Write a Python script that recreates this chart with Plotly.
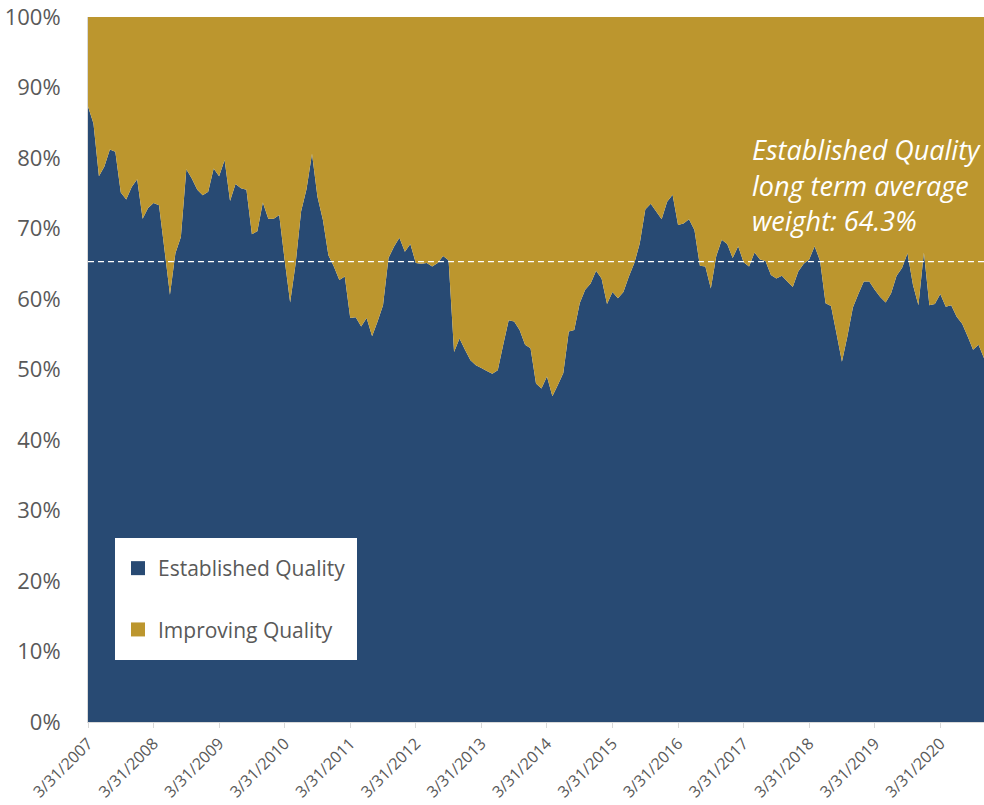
import calendar
import plotly.graph_objects as go

# ---------------- data ----------------
START_YEAR, START_MONTH = 2007, 3

established = [
    87.3, 84.9, 77.4, 78.8, 81.2, 80.9, 75.1, 74.1, 75.9, 77.0,   # 0-9
    71.4, 72.9, 73.6, 73.3, 67.0, 60.6, 66.5, 68.8, 78.4, 77.1,   # 10-19
    75.5, 74.7, 75.2, 78.5, 77.4, 79.7, 73.9, 76.3, 75.7, 75.5,   # 20-29
    69.2, 69.6, 73.7, 71.4, 71.4, 71.9, 65.5, 59.5, 65.0, 72.4,   # 30-39
    75.6, 80.6, 74.5, 71.2, 66.2, 64.6, 62.7, 63.2, 57.3, 57.4,   # 40-49
    56.1, 57.3, 54.7, 56.8, 59.1, 65.8, 67.4, 68.7, 66.7, 67.8,   # 50-59
    65.1, 65.0, 65.1, 64.6, 65.1, 66.1, 65.5, 52.5, 54.4, 52.8,   # 60-69
    51.3, 50.6, 50.2, 49.8, 49.4, 49.9, 53.5, 57.0, 56.8, 55.6,   # 70-79
    53.5, 53.0, 48.0, 47.3, 49.0, 46.2, 47.8, 49.5, 55.4, 55.6,   # 80-89
    59.4, 61.3, 62.2, 64.0, 62.9, 59.3, 61.0, 60.1, 61.0, 63.2,   # 90-99
    65.1, 67.9, 72.7, 73.5, 72.4, 71.3, 73.8, 74.8, 70.5, 70.7,   # 100-109
    71.3, 69.8, 64.7, 64.6, 61.5, 66.1, 68.4, 67.8, 65.8, 67.5,   # 110-119
    65.2, 64.6, 66.6, 65.6, 65.4, 63.4, 62.9, 63.3, 62.5, 61.7,   # 120-129
    63.9, 65.0, 65.6, 67.5, 65.4, 59.4, 59.0, 55.1, 51.1, 54.7,   # 130-139
    58.8, 60.7, 62.5, 62.5, 61.3, 60.3, 59.5, 60.8, 63.3, 64.4,   # 140-149
    66.5, 62.0, 59.1, 66.6, 59.1, 59.3, 60.7, 58.9, 59.1, 57.5,   # 150-159
    56.5, 54.7, 52.8, 53.5, 51.6,                                 # 160-164
]
improving = [round(100 - v, 1) for v in established]

AVERAGE_LINE = 65.3

TICK_LABELS = [f"3/31/{y}" for y in range(2007, 2021)]
Y_TICKS = list(range(0, 101, 10))
Y_TICK_TEXT = [f"{v}%" for v in Y_TICKS]

SERIES_NAMES = ["Established Quality", "Improving Quality"]
NOTE_LINES = ["Established Quality", "long term average", "weight: 64.3%"]

# month-end date labels for each data point
dates = []
yy, mm = START_YEAR, START_MONTH
for _ in established:
    dd = calendar.monthrange(yy, mm)[1]
    dates.append(f"{mm}/{dd}/{yy}")
    mm += 1
    if mm > 12:
        mm, yy = 1, yy + 1

# ---------------- styling ----------------
BLUE = "#284A73"
GOLD = "#BC962E"
GREY = "#595959"
FONT = "Open Sans"

W, H = 984, 805
L, R, T, B = 88, 0, 17, 83
PW, PH = W - L - R, H - T - B


def px_x(x):
    return (x - L) / PW


def px_y(y):
    return (H - B - y) / PH


fig = go.Figure()
fig.add_trace(go.Scatter(x=dates, y=established, stackgroup="one", mode="none",
                         fillcolor=BLUE, name=SERIES_NAMES[0], showlegend=False,
                         hoverinfo="x+y"))
fig.add_trace(go.Scatter(x=dates, y=improving, stackgroup="one", mode="none",
                         fillcolor=GOLD, name=SERIES_NAMES[1], showlegend=False,
                         hoverinfo="x+y"))

# legend entries (square swatches)
for name, col, grp in [(SERIES_NAMES[0], BLUE, "a"), (SERIES_NAMES[1], GOLD, "b")]:
    fig.add_trace(go.Scatter(x=[None], y=[None], mode="markers", name=name,
                             legendgroup=grp,
                             marker=dict(symbol="square", size=14, color=col)))

shapes = [
    dict(type="line", xref="paper", x0=0, x1=1, yref="y", y0=AVERAGE_LINE, y1=AVERAGE_LINE,
         line=dict(color="white", width=1.3, dash="6px,4px"), layer="above"),
    dict(type="rect", xref="paper", yref="paper",
         x0=px_x(115), x1=px_x(357), y0=px_y(660), y1=px_y(538),
         fillcolor="white", line=dict(width=0), layer="above"),
]

annotations = []
for i, line in enumerate(NOTE_LINES):
    annotations.append(dict(
        text=f"<i>{line}</i>", xref="paper", yref="paper",
        x=px_x(750), y=px_y(149 + 36 * i), xanchor="left", yanchor="middle",
        showarrow=False, font=dict(family=FONT, size=27, color="white"),
    ))

fig.update_layout(
    width=W, height=H, autosize=False,
    margin=dict(l=L, r=R, t=T, b=B, pad=0),
    paper_bgcolor="white", plot_bgcolor="white",
    font=dict(family=FONT, color=GREY),
    shapes=shapes, annotations=annotations,
    showlegend=True,
    legend=dict(x=px_x(118), y=px_y(548), xanchor="left", yanchor="top",
                bgcolor="rgba(0,0,0,0)", borderwidth=0,
                font=dict(family=FONT, size=21, color=GREY),
                traceorder="grouped", tracegroupgap=31, itemsizing="trace"),
    xaxis=dict(type="category", range=[0, 164], tickmode="array",
               tickvals=TICK_LABELS, ticktext=TICK_LABELS, tickangle=-45,
               tickfont=dict(family=FONT, size=16, color=GREY),
               showgrid=False, zeroline=False,
               showline=True, linecolor="#D9D9D9", linewidth=1,
               ticks="outside", ticklen=5, tickcolor="#D9D9D9"),
    yaxis=dict(range=[0, 100], tickmode="array", tickvals=Y_TICKS, ticktext=Y_TICK_TEXT,
               tickfont=dict(family=FONT, size=22, color=GREY),
               showgrid=False, zeroline=False,
               showline=True, linecolor="#D9D9D9", linewidth=1,
               ticks="outside", ticklen=22, tickcolor="rgba(0,0,0,0)"),
)

fig.write_html("out.html", config={"responsive": False, "displayModeBar": False},
               post_script="document.body.style.margin='0';")
